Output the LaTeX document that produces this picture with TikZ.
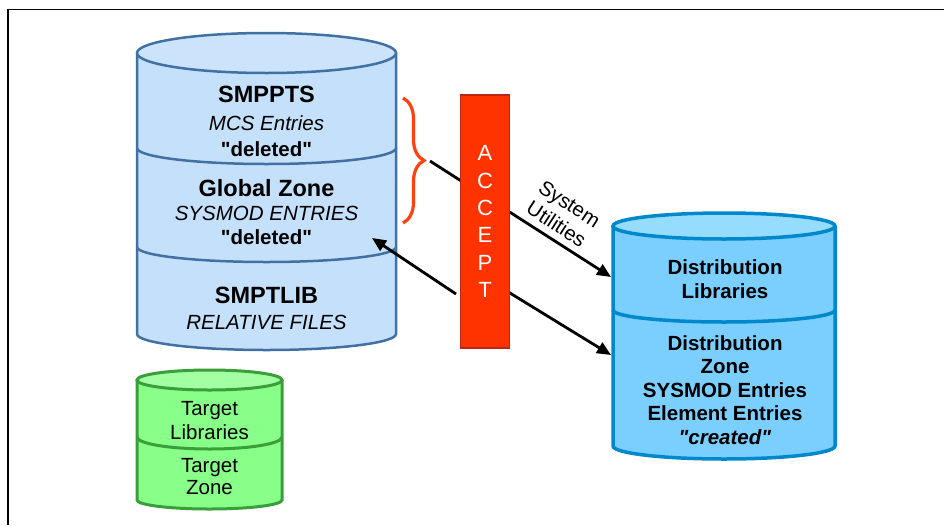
\documentclass[tikz,border=0pt]{standalone}
\usepackage{fontspec}
\setmainfont{Liberation Sans}[Ligatures=TeXOff]
\usetikzlibrary{arrows.meta,decorations.pathreplacing}
\definecolor{lbody}{RGB}{197,224,250}
\definecolor{ltop}{RGB}{203,228,252}
\definecolor{lline}{RGB}{65,113,163}
\definecolor{rbody}{RGB}{122,207,255}
\definecolor{rtop}{RGB}{150,220,255}
\definecolor{rline}{RGB}{0,136,204}
\definecolor{gbody}{RGB}{136,255,136}
\definecolor{gtop}{RGB}{162,255,162}
\definecolor{gline}{RGB}{58,158,58}
\definecolor{acc}{RGB}{255,51,0}
\definecolor{accline}{RGB}{185,40,20}
\definecolor{bracecol}{RGB}{255,64,16}
\tikzset{
  txt/.style={inner sep=0pt, align=center, font=\fontsize{20.5}{23.5}\selectfont},
  ttl/.style={inner sep=0pt, align=center, font=\fontsize{23.5}{26}\selectfont\bfseries},
  itx/.style={txt, font=\fontsize{20.5}{23.5}\selectfont\itshape},
  btx/.style={txt, font=\fontsize{20.5}{23.5}\selectfont\bfseries},
  conn/.style={line width=2.8pt, -{Triangle[length=14pt,width=12pt]}},
  acceptbox/.style={draw=accline, line width=1.5pt, fill=acc, text=white,
    minimum width=48.6pt, minimum height=253pt, inner sep=0pt, align=center,
    font=\fontsize{22}{27.3}\selectfont},
}
\begin{document}
\begin{tikzpicture}[x=1pt,y=1pt]
\useasboundingbox (0,0) rectangle (944,-525);
% frame
\draw[line width=1.5pt] (8,-525) -- (8,-9.5) -- (944,-9.5);

% ---------- left cylinder ----------
\fill[lbody] (137,-53) -- (137,-334) arc[start angle=180,end angle=360,x radius=129.5,y radius=16] -- (396,-53) -- cycle;
\draw[lline, line width=2.5pt] (137,-53) -- (137,-334) arc[start angle=180,end angle=360,x radius=129.5,y radius=16] -- (396,-53);
\draw[lline, line width=2.5pt, fill=ltop] (266.5,-53) ellipse[x radius=129.5, y radius=20];
\draw[lline, line width=2.5pt] (137,-148) arc[start angle=180,end angle=360,x radius=129.5,y radius=16];
\draw[lline, line width=2.5pt] (137,-247) arc[start angle=180,end angle=360,x radius=129.5,y radius=15];
\node[ttl] (smppts) at (266.5,-94) {SMPPTS};
\node[itx] (mcs) at (266.5,-123) {MCS Entries};
\node[btx] (del1) at (266.5,-149) {"deleted"};
\node[ttl] (gz) at (266.5,-188) {Global Zone};
\node[itx] (sysent) at (266.5,-213) {SYSMOD ENTRIES};
\node[btx] (del2) at (266.5,-237) {"deleted"};
\node[ttl] (smptlib) at (266.5,-295) {SMPTLIB};
\node[itx] (relf) at (266.5,-322) {RELATIVE FILES};

% ---------- green cylinder ----------
\fill[gbody] (137,-380) -- (137,-500) arc[start angle=180,end angle=360,x radius=72.5,y radius=9] -- (282,-380) -- cycle;
\draw[gline, line width=3pt] (137,-380) -- (137,-500) arc[start angle=180,end angle=360,x radius=72.5,y radius=9] -- (282,-380);
\draw[gline, line width=3pt, fill=gtop] (209.5,-380) ellipse[x radius=72.5, y radius=10];
\draw[gline, line width=3pt] (137,-437) arc[start angle=180,end angle=360,x radius=72.5,y radius=12];
\node[txt] (tlib) at (209.5,-420.5) {Target\\Libraries};
\node[txt, font=\fontsize{20.5}{22}\selectfont] (tzone) at (209.5,-477) {Target\\Zone};

% ---------- right cylinder ----------
\fill[rbody] (613,-226) -- (613,-446) arc[start angle=180,end angle=360,x radius=111,y radius=13] -- (835,-226) -- cycle;
\draw[rline, line width=3.5pt] (613,-226) -- (613,-446) arc[start angle=180,end angle=360,x radius=111,y radius=13] -- (835,-226);
\draw[rline, line width=3.5pt, fill=rtop] (724,-226) ellipse[x radius=111, y radius=13];
\draw[rline, line width=3.5pt] (613,-310) arc[start angle=180,end angle=360,x radius=111,y radius=12];
\node[btx] (dlib) at (725,-279) {Distribution\\Libraries};
\node[btx] (dzone) at (725,-390) {Distribution\\Zone\\SYSMOD Entries\\Element Entries\\\textit{"created"}};

% ---------- brace ----------
\draw[bracecol, line width=3.2pt, decorate, decoration={brace, amplitude=21pt}] (403,-98) coordinate (bt) -- (403,-223) coordinate (bb);

% ---------- connectors (behind ACCEPT) ----------
\coordinate (a1s) at (430,-161);
\coordinate (a1e) at (611,-277);
\coordinate (a2s) at (456,-294);
\coordinate (a2e) at (372,-238);
\coordinate (a3s) at (505,-290);
\coordinate (a3e) at (611,-355);
\draw[conn] (a1s) -- (a1e);
\draw[conn] (a2s) -- (a2e);
\draw[conn] (a3s) -- (a3e);

% ---------- ACCEPT ----------
\node[acceptbox] (accept) at (485,-221.5) {A\\C\\C\\E\\P\\T};

\node[txt, rotate=-33, font=\fontsize{20.5}{24}\selectfont] (sysu) at (563,-214) {System\\Utilities};
\end{tikzpicture}
\end{document}
